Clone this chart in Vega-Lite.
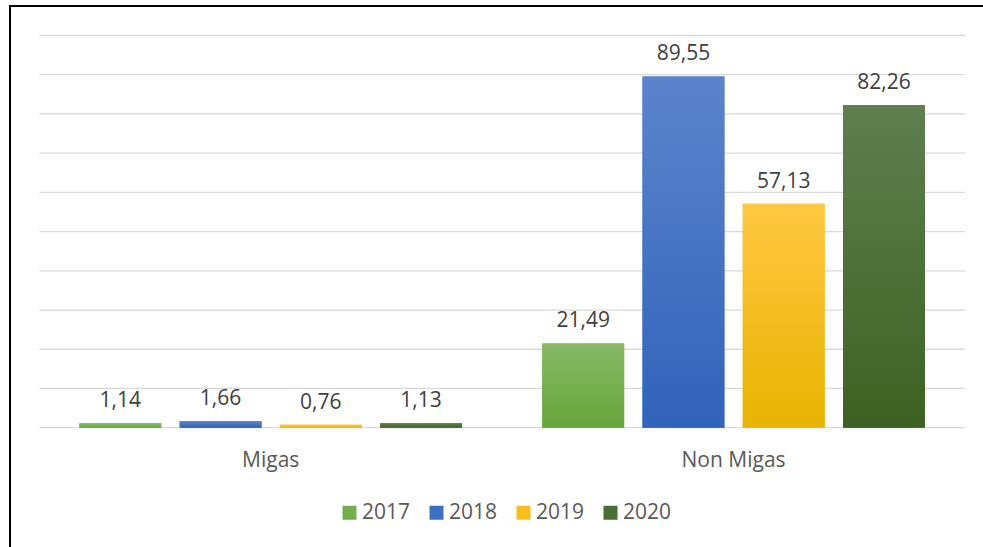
{
  "$schema": "https://vega.github.io/schema/vega-lite/v6.json",
  "width": 980,
  "height": 545,
  "autosize": {"type": "none"},
  "padding": {"left": 10, "top": 6, "right": 0, "bottom": 0},
  "background": "#ffffff",
  "config": {
    "view": {"stroke": "#000000", "strokeWidth": 2},
    "font": "Open Sans",
    "locale": {"number": {"decimal": ",", "thousands": ".", "grouping": [3], "currency": ["", ""]}}
  },
  "data": {
    "values": [
      {"kategori": "Migas", "tahun": "2017", "nilai": 1.14},
      {"kategori": "Migas", "tahun": "2018", "nilai": 1.66},
      {"kategori": "Migas", "tahun": "2019", "nilai": 0.76},
      {"kategori": "Migas", "tahun": "2020", "nilai": 1.13},
      {"kategori": "Non Migas", "tahun": "2017", "nilai": 21.49},
      {"kategori": "Non Migas", "tahun": "2018", "nilai": 89.55},
      {"kategori": "Non Migas", "tahun": "2019", "nilai": 57.13},
      {"kategori": "Non Migas", "tahun": "2020", "nilai": 82.26}
    ]
  },
  "layer": [
    {
      "data": {"values": [{"g": 0}, {"g": 10}, {"g": 20}, {"g": 30}, {"g": 40}, {"g": 50}, {"g": 60}, {"g": 70}, {"g": 80}, {"g": 90}, {"g": 100}]},
      "mark": {"type": "rule", "color": "#d9d9d9", "strokeWidth": 1.3},
      "encoding": {
        "y": {"field": "g", "type": "quantitative", "scale": {"domain": [-31.44, 107.52], "nice": false, "zero": false}, "axis": null},
        "x": {"datum": "Migas", "type": "nominal", "bandPosition": 0},
        "x2": {"datum": "Non Migas", "bandPosition": 1}
      }
    },
    {
      "mark": {"type": "bar"},
      "encoding": {
        "x": {
          "field": "kategori", "type": "nominal",
          "scale": {"domain": ["Migas", "Non Migas"], "range": [29.3, 955], "paddingInner": 0, "paddingOuter": 0},
          "axis": {"orient": "bottom", "offset": -91, "domain": false, "ticks": false, "labelPadding": 0, "labelAlign": "center", "labelBaseline": "middle", "labelFontSize": 21, "labelColor": "#595959", "title": null, "grid": false, "labelAngle": 0}
        },
        "xOffset": {"field": "tahun", "type": "nominal", "scale": {"domain": ["2017", "2018", "2019", "2020"], "paddingInner": 0.183, "paddingOuter": 0.4}},
        "y": {"field": "nilai", "type": "quantitative", "scale": {"domain": [-31.44, 107.52], "nice": false, "zero": false}, "axis": null},
        "color": {
          "field": "tahun", "type": "nominal",
          "scale": {"domain": ["2017", "2018", "2019", "2020"], "range": ["#74ae4c", "#3f6fc4", "#f6bf1c", "#4a6f35"]},
          "legend": {"orient": "none", "legendX": 329, "legendY": 496, "direction": "horizontal", "title": null, "symbolType": "square", "symbolSize": 196, "symbolStrokeWidth": 0, "symbolOpacity": 1, "labelFontSize": 21, "labelColor": "#595959", "labelOffset": 2, "columnPadding": 15, "padding": 0}
        }
      }
    },
    {
      "transform": [{"filter": "datum.tahun == '2017'"}],
      "mark": {"type": "bar", "color": {"gradient": "linear", "x1": 0, "y1": 0, "x2": 0, "y2": 1, "stops": [{"offset": 0, "color": "#87b966"}, {"offset": 1, "color": "#68a63c"}]}},
      "encoding": {
        "x": {"field": "kategori", "type": "nominal"},
        "xOffset": {"field": "tahun", "type": "nominal"},
        "y": {"field": "nilai", "type": "quantitative"}
      }
    },
    {
      "transform": [{"filter": "datum.tahun == '2018'"}],
      "mark": {"type": "bar", "color": {"gradient": "linear", "x1": 0, "y1": 0, "x2": 0, "y2": 1, "stops": [{"offset": 0, "color": "#5c84cc"}, {"offset": 1, "color": "#3063ba"}]}},
      "encoding": {
        "x": {"field": "kategori", "type": "nominal"},
        "xOffset": {"field": "tahun", "type": "nominal"},
        "y": {"field": "nilai", "type": "quantitative"}
      }
    },
    {
      "transform": [{"filter": "datum.tahun == '2019'"}],
      "mark": {"type": "bar", "color": {"gradient": "linear", "x1": 0, "y1": 0, "x2": 0, "y2": 1, "stops": [{"offset": 0, "color": "#ffc842"}, {"offset": 1, "color": "#e6b400"}]}},
      "encoding": {
        "x": {"field": "kategori", "type": "nominal"},
        "xOffset": {"field": "tahun", "type": "nominal"},
        "y": {"field": "nilai", "type": "quantitative"}
      }
    },
    {
      "transform": [{"filter": "datum.tahun == '2020'"}],
      "mark": {"type": "bar", "color": {"gradient": "linear", "x1": 0, "y1": 0, "x2": 0, "y2": 1, "stops": [{"offset": 0, "color": "#5f7f4f"}, {"offset": 1, "color": "#3c6222"}]}},
      "encoding": {
        "x": {"field": "kategori", "type": "nominal"},
        "xOffset": {"field": "tahun", "type": "nominal"},
        "y": {"field": "nilai", "type": "quantitative"}
      }
    },
    {
      "mark": {"type": "text", "dy": -16, "baseline": "alphabetic", "fontSize": 21, "color": "#404040"},
      "encoding": {
        "x": {"field": "kategori", "type": "nominal"},
        "xOffset": {"field": "tahun", "type": "nominal"},
        "y": {"field": "nilai", "type": "quantitative"},
        "text": {"field": "nilai", "type": "quantitative", "format": ".2f"}
      }
    }
  ]
}
